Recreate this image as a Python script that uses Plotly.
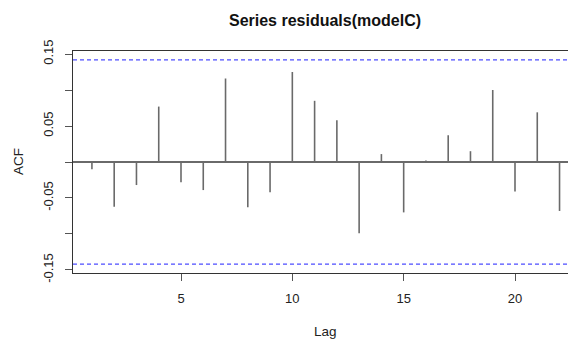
import plotly.graph_objects as go

# Sample autocorrelations of the model residuals, lags 1..22
lags = list(range(1, 23))
acf_vals = [-0.010, -0.062, -0.032, 0.077, -0.028, -0.039, 0.116, -0.063,
            -0.042, 0.125, 0.085, 0.058, -0.099, 0.011, -0.070, 0.002,
            0.037, 0.015, 0.100, -0.041, 0.069, -0.068]
conf_bound = 0.142  # approximate 95% white-noise band

y_tick_vals = [-0.15, -0.10, -0.05, 0.0, 0.05, 0.10, 0.15]
y_tick_text = ["-0.15", "", "-0.05", "", "0.05", "", "0.15"]
x_tick_vals = [5, 10, 15, 20]

W, H = 568, 340
L, R, T, B = 73, 0, 51, 67

# vertical spikes from zero to each autocorrelation
sx, sy = [], []
for lag, v in zip(lags, acf_vals):
    sx += [lag, lag, None]
    sy += [0, v, None]

font = "Liberation Sans, Arial, sans-serif"
fig = go.Figure()
fig.add_trace(go.Scatter(x=sx, y=sy, mode="lines",
                         line=dict(color="#6a6a6a", width=1.6),
                         hoverinfo="skip", showlegend=False))

for yv in (conf_bound, -conf_bound):
    fig.add_shape(type="line", xref="paper", yref="y", x0=0, x1=1, y0=yv, y1=yv,
                  line=dict(color="#4d4dff", width=1.2, dash="4px,3px"))

pw = W - L - R
ph = H - T - B


def px_x(p):
    return (p - L) / pw


def px_y(p):
    return (H - B - p) / ph


fig.add_annotation(text="ACF", xref="paper", yref="paper",
                   x=px_x(18), y=px_y(162), xanchor="center", yanchor="middle",
                   textangle=-90, showarrow=False,
                   font=dict(family=font, size=13.5, color="#222"))
fig.add_annotation(text="Lag", xref="paper", yref="paper",
                   x=px_x(325), y=px_y(331), xanchor="center", yanchor="middle",
                   showarrow=False,
                   font=dict(family=font, size=13.5, color="#222"))

fig.update_layout(
    width=W, height=H,
    margin=dict(l=L, r=R, t=T, b=B, pad=0),
    paper_bgcolor="white", plot_bgcolor="white",
    font=dict(family=font, size=13, color="#222"),
    title=dict(text="<b>Series residuals(modelC)</b>", x=325 / W, xanchor="center",
               xref="container", y=1 - 20 / H, yanchor="middle",
               font=dict(family=font, size=16, color="#111")),
    showlegend=False,
)
fig.update_xaxes(range=[0.15, 22.38], tickvals=x_tick_vals, ticks="outside",
                 ticklen=7, tickwidth=1.2, tickcolor="#555",
                 showline=True, mirror=True, linecolor="#333", linewidth=1.2,
                 showgrid=False, zeroline=False, ticklabelstandoff=6,
                 tickfont=dict(family=font, size=13, color="#222"))
fig.update_yaxes(range=[-0.1542, 0.1542], tickvals=y_tick_vals, ticktext=y_tick_text,
                 ticks="outside", ticklen=7, tickwidth=1.2, tickcolor="#555",
                 tickangle=-90,
                 showline=True, mirror=False, linecolor="#333", linewidth=1.2,
                 showgrid=False, zeroline=True, zerolinecolor="#6a6a6a",
                 zerolinewidth=1.6, ticklabelstandoff=7,
                 tickfont=dict(family=font, size=13, color="#222"))

fig.write_html("out.html")
